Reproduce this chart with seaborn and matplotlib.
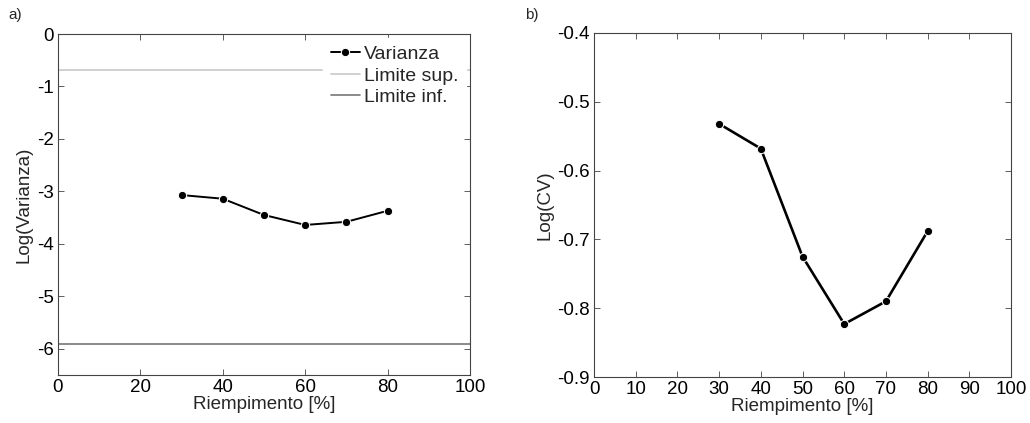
import matplotlib
matplotlib.use("Agg")
import matplotlib.pyplot as plt
import seaborn as sns
import pandas as pd

riempimento = [30, 40, 50, 60, 70, 80]
log_varianza = [-3.07, -3.14, -3.45, -3.64, -3.58, -3.37]
log_cv = [-0.532, -0.568, -0.725, -0.823, -0.790, -0.688]
limite_sup = -0.69
limite_inf = -5.90

sns.set_style("white")
plt.rcParams['font.family'] = ['Liberation Sans', 'DejaVu Sans']
plt.rcParams['font.size'] = 13.5

fig = plt.figure(figsize=(10.30, 4.23), dpi=100)
ax1 = fig.add_axes([0.0563, 0.1135, 0.4000, 0.8061])
ax2 = fig.add_axes([0.5767, 0.1087, 0.4049, 0.8133])

df = pd.DataFrame({"x": riempimento, "var": log_varianza, "cv": log_cv})

sns.lineplot(data=df, x="x", y="var", ax=ax1, color="black", marker="o",
             markersize=6, linewidth=1.4, label="Varianza", zorder=3)
ax1.axhline(limite_sup, color="#c8c8c8", linewidth=1.2, label="Limite sup.")
ax1.axhline(limite_inf, color="#777777", linewidth=1.2, label="Limite inf.")
ax1.set_xlim(0, 100)
ax1.set_ylim(-6.5, 0)
ax1.set_xticks([0, 20, 40, 60, 80, 100])
ax1.set_yticks([0, -1, -2, -3, -4, -5, -6])
ax1.set_yticklabels(["0", "-1", "-2", "-3", "-4", "-5", "-6"])
ax1.set_xlabel("Riempimento [%]", labelpad=0)
ax1.set_ylabel("Log(Varianza)", labelpad=3)
leg = ax1.legend(loc="upper right", frameon=True, fancybox=False, framealpha=1,
                 edgecolor="white", facecolor="white", handlelength=1.5,
                 handletextpad=0.2, borderaxespad=0.2, labelspacing=0.2,
                 fontsize=14)

sns.lineplot(data=df, x="x", y="cv", ax=ax2, color="black", marker="o",
             markersize=6, linewidth=1.9)
ax2.set_xlim(0, 100)
ax2.set_ylim(-0.9, -0.4)
ax2.set_xticks(list(range(0, 101, 10)))
ax2.set_yticks([-0.9, -0.8, -0.7, -0.6, -0.5, -0.4])
ax2.set_yticklabels(["-0.9", "-0.8", "-0.7", "-0.6", "-0.5", "-0.4"])
ax2.set_xlabel("Riempimento [%]", labelpad=0)
ax2.set_ylabel("Log(CV)", labelpad=3)

for ax in (ax1, ax2):
    for s in ax.spines.values():
        s.set_color("#444444")
        s.set_linewidth(0.8)
    ax.tick_params(direction="in", length=4, width=0.6, top=True, right=True,
                   bottom=True, left=True, colors="#444444", labelcolor="black",
                   pad=3)

fig.text(0.008, 0.955, "a)", fontsize=11)
fig.text(0.510, 0.955, "b)", fontsize=11)

fig.savefig("out.png", dpi=100, facecolor="white")
